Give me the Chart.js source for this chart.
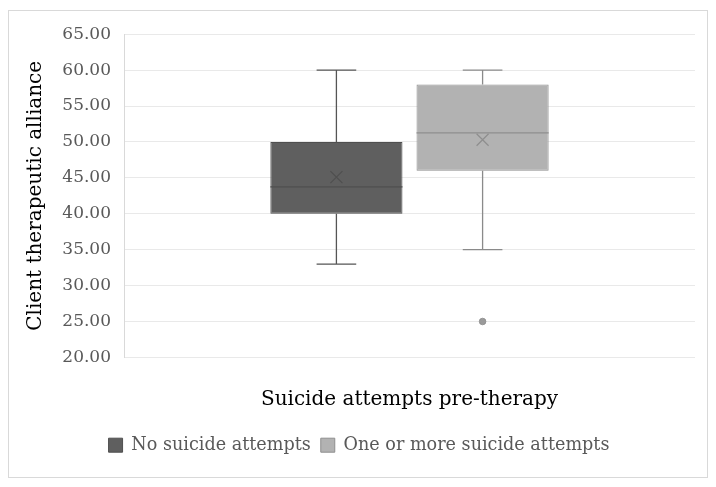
<!DOCTYPE html>
<html>
<head>
<meta charset="utf-8">
<script src="https://cdn.jsdelivr.net/npm/chart.js@4/dist/chart.umd.min.js"></script>
<style>
  html, body { margin: 0; padding: 0; background: #ffffff; }
  #frame { position: absolute; left: 8px; top: 10px; width: 698px; height: 466px; border: 1px solid #d9d9d9; }
  canvas { display: block; }
</style>
</head>
<body>
<div id="frame"><canvas id="c" width="698" height="466"></canvas></div>
<script>
// ---- data ----
const categories = [''];
const seriesNames = ['No suicide attempts', 'One or more suicide attempts'];
const minVals = [33, 35];
const q1Vals = [40, 46];
const medianVals = [43.75, 51.25];
const q3Vals = [50, 58];
const maxVals = [60, 60];
const meanVals = [45.1, 50.3];
const outlierVals = [[], [25]];
const yTickMin = 20, yTickMax = 65, yTickStep = 5;
const xTitle = 'Suicide attempts pre-therapy';
const yTitle = 'Client therapeutic alliance';

// ---- styles ----
const fills = ['#5f5f5f', '#b2b2b2'];
const borders = ['#4f4f4f', '#8e8e8e'];
const whiskerColors = ['#555555', '#8a8a8a'];
const FONT = '"DejaVu Serif", "Liberation Serif", serif';

const boxPlugin = {
  id: 'boxExtras',
  afterDatasetsDraw(chart) {
    const ctx = chart.ctx;
    const y = chart.scales.y;
    chart.data.datasets.forEach((ds, i) => {
      const el = chart.getDatasetMeta(i).data[0];
      if (!el) return;
      const cx = el.x;
      const w = el.width;
      const left = cx - w / 2, right = cx + w / 2;
      const capHalf = w * 0.15;
      ctx.save();
      ctx.lineWidth = 1.3;
      ctx.strokeStyle = whiskerColors[i];
      const yMin = y.getPixelForValue(minVals[i]);
      const yMax = y.getPixelForValue(maxVals[i]);
      const yQ1 = y.getPixelForValue(q1Vals[i]);
      const yQ3 = y.getPixelForValue(q3Vals[i]);
      ctx.beginPath();
      ctx.moveTo(cx, yQ3); ctx.lineTo(cx, yMax);
      ctx.moveTo(cx - capHalf, yMax); ctx.lineTo(cx + capHalf, yMax);
      ctx.moveTo(cx, yQ1); ctx.lineTo(cx, yMin);
      ctx.moveTo(cx - capHalf, yMin); ctx.lineTo(cx + capHalf, yMin);
      ctx.stroke();
      const yMed = y.getPixelForValue(medianVals[i]);
      ctx.strokeStyle = borders[i];
      ctx.lineWidth = 1.3;
      ctx.beginPath();
      ctx.moveTo(left, yMed); ctx.lineTo(right, yMed);
      ctx.stroke();
      const yMean = y.getPixelForValue(meanVals[i]);
      const s = 6;
      ctx.lineWidth = 1.2;
      ctx.beginPath();
      ctx.moveTo(cx - s, yMean - s); ctx.lineTo(cx + s, yMean + s);
      ctx.moveTo(cx - s, yMean + s); ctx.lineTo(cx + s, yMean - s);
      ctx.stroke();
      outlierVals[i].forEach(v => {
        const yo = y.getPixelForValue(v);
        ctx.beginPath();
        ctx.arc(cx, yo, 3.3, 0, Math.PI * 2);
        ctx.fillStyle = '#9a9a9a';
        ctx.fill();
        ctx.lineWidth = 0.8;
        ctx.strokeStyle = '#8a8a8a';
        ctx.stroke();
      });
      ctx.restore();
    });
  }
};

const datasets = seriesNames.map((name, i) => ({
  label: name,
  data: [[q1Vals[i], q3Vals[i]]],
  backgroundColor: fills[i],
  borderColor: borders[i],
  borderWidth: 1,
  borderSkipped: false,
  barPercentage: 0.904,
  categoryPercentage: 0.512
}));

new Chart(document.getElementById('c'), {
  type: 'bar',
  data: { labels: categories, datasets },
  plugins: [boxPlugin],
  options: {
    responsive: false,
    animation: false,
    devicePixelRatio: 1,
    layout: { padding: { left: 14, right: 12, top: 16, bottom: 13 } },
    plugins: {
      legend: {
        position: 'bottom',
        labels: {
          boxWidth: 14, boxHeight: 14,
          color: '#595959',
          font: { family: FONT, size: 17.6 },
          padding: 10
        }
      },
      tooltip: { enabled: false }
    },
    scales: {
      x: {
        grid: { display: false },
        border: { display: false },
        ticks: { display: false },
        title: { display: true, text: xTitle, color: '#000000', font: { family: FONT, size: 20 }, padding: { top: 20, bottom: 15 } },
        afterFit(scale) { scale.height = 69; }
      },
      y: {
        min: yTickMin, max: yTickMax,
        ticks: {
          stepSize: yTickStep,
          color: '#595959',
          font: { family: FONT, size: 17 },
          padding: 13,
          callback: v => Number(v).toFixed(2)
        },
        grid: { color: '#e9e9e9', lineWidth: 1, drawTicks: false },
        border: { display: true, color: '#d9d9d9' },
        title: { display: true, text: yTitle, color: '#000000', font: { family: FONT, size: 20 }, padding: { top: 1, bottom: 4 } },
        afterFit(scale) { scale.width = 101; }
      }
    }
  }
});
</script>
</body>
</html>
